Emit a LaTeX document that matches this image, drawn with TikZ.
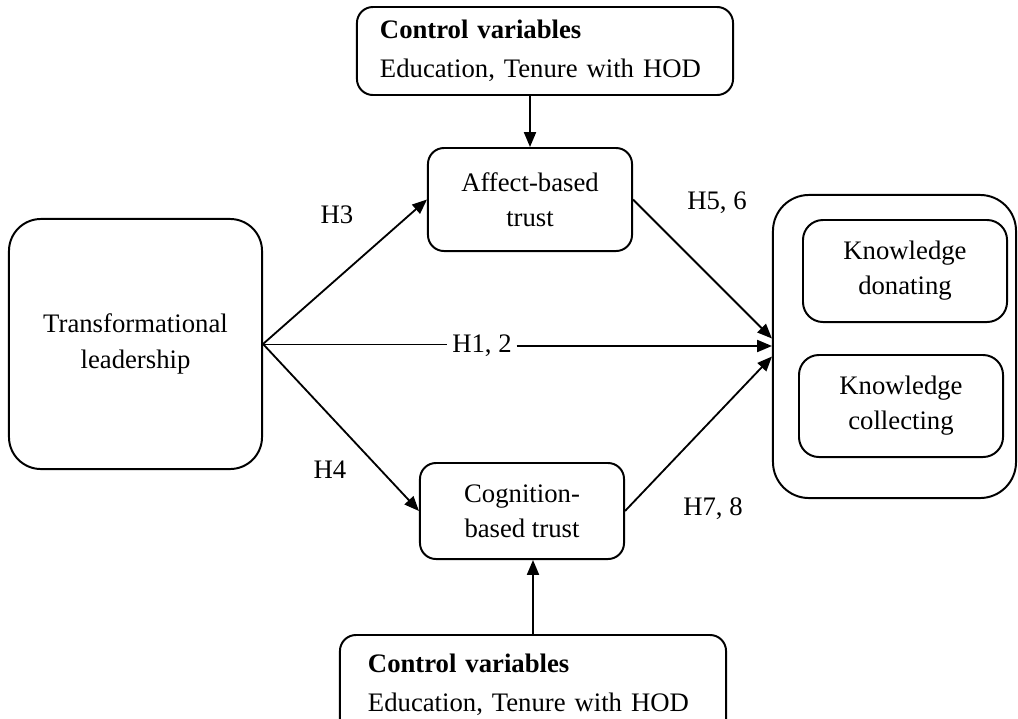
\documentclass[tikz,border=0pt]{standalone}
\usepackage{fontspec}
\setmainfont{Liberation Serif}
\usetikzlibrary{arrows.meta,calc}

\begin{document}
\begin{tikzpicture}[x=0.025cm, y=-0.025cm,
    font=\fontsize{19}{25}\selectfont,
    box/.style={draw, line width=1.4pt, rounded corners=0.4cm, align=center, inner sep=0pt},
    ctrl/.style={box, align=left, font=\fontsize{19}{28}\selectfont, text width=8.25cm, minimum height=2.2cm},
    arr/.style={-{Triangle[length=10.5pt, width=8.5pt]}, line width=1.3pt}]
\useasboundingbox (0,0) rectangle (1018,718);

\node (ctop) at (545, 51) [ctrl, minimum width=9.4cm, inner xsep=0.5cm] {\textbf{Control variables}\\Education, Tenure with HOD};
\node (cbot) at (533, 685) [ctrl, minimum width=9.3cm, inner xsep=0.7cm, minimum height=2.5cm] {\textbf{Control variables}\\Education, Tenure with HOD};

\node (tl) at (135.5, 344) [box, rounded corners=0.8cm, minimum width=6.325cm, minimum height=6.25cm] {Transformational\\leadership};
\node (affect) at (530, 199.5) [box, minimum width=5.1cm, minimum height=2.575cm] {Affect-based\\trust};
\node (cog) at (522, 511) [box, minimum width=5.1cm, minimum height=2.4cm] {Cognition-\\based trust};

\node (kn) at (894.5, 346.5) [box, rounded corners=0.9cm, minimum width=6.075cm, minimum height=7.575cm] {};
\node (don) at (905, 271) [box, rounded corners=0.5cm, minimum width=5.1cm, minimum height=2.55cm] {Knowledge\\donating};
\node (col) at (901, 406) [box, rounded corners=0.5cm, minimum width=5.1cm, minimum height=2.55cm] {Knowledge\\collecting};

\node (h3) at (337, 215) {H3};
\node (h4) at (330, 470) {H4};
\node (h12) at (482, 346) {H1, 2};
\node (h56) at (717, 203) {H5, 6};
\node (h78) at (713, 509) {H7, 8};

\draw[arr] (ctop.south -| affect.north) -- (affect.north);
\draw[arr] (cbot.north) -- (cbot.north |- cog.south);

\draw[arr] (tl.east) -- (affect.west);
\draw[arr] (tl.east) -- (cog.west);
\draw[line width=0.6pt] (tl.east) -- (h12.west |- tl.east);
\draw[arr] (h12.east) -- (h12.east -| kn.west);

\draw[arr] (affect.east) -- ($(kn.west)+(0,-8)$);
\draw[arr] (cog.east) -- ($(kn.west)+(0,10)$);
\end{tikzpicture}
\end{document}
